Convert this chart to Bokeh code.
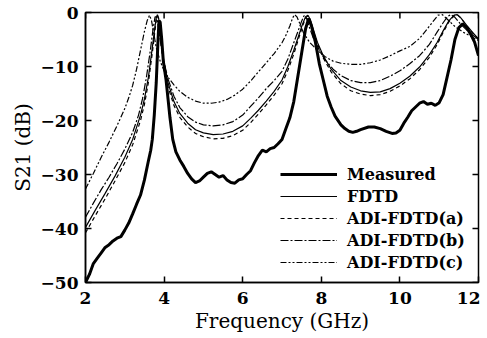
import math
from bokeh.plotting import figure
from bokeh.models import FixedTicker, Legend, LegendItem, Range1d
from bokeh.embed import file_html
from bokeh.resources import INLINE

# ---- data ----
meas_f = [2.00, 2.10, 2.20, 2.30, 2.40, 2.50, 2.60, 2.70, 2.80, 2.90, 3.00, 3.10, 3.20,
          3.30, 3.40, 3.50, 3.60, 3.66, 3.70, 3.75, 3.80, 3.84, 3.87, 3.90, 3.94, 3.98,
          4.05, 4.10, 4.15, 4.22, 4.30, 4.40, 4.50, 4.60, 4.70, 4.80, 4.90, 5.00, 5.10,
          5.20, 5.30, 5.40, 5.50, 5.60, 5.70, 5.80, 5.90, 6.00, 6.10, 6.20, 6.30, 6.40,
          6.50, 6.60, 6.70, 6.80, 6.90, 7.00, 7.10, 7.20, 7.30, 7.40, 7.50, 7.60, 7.68,
          7.75, 7.85, 7.95, 8.05, 8.15, 8.25, 8.35, 8.50, 8.60, 8.70, 8.80, 8.90, 9.00,
          9.20, 9.35, 9.50, 9.65, 9.80, 9.90, 10.00, 10.10, 10.20, 10.30, 10.40, 10.50,
          10.60, 10.70, 10.80, 10.90, 11.00, 11.10, 11.20, 11.30, 11.40, 11.50, 11.60,
          11.70, 11.80, 11.90, 12.00]
meas_db = [-50.0, -48.5, -46.5, -45.5, -44.5, -43.5, -43.0, -42.3, -41.8, -41.5, -40.3, -39.0, -37.3,
           -35.5, -33.8, -31.0, -27.5, -25.5, -23.5, -19.0, -13.0, -6.0, -1.5, -1.8, -5.0, -9.0,
           -12.5, -16.0, -19.5, -23.5, -25.8, -27.3, -28.5, -29.8, -30.8, -31.5, -31.2, -30.5, -29.8,
           -29.5, -30.0, -30.5, -30.2, -31.0, -31.5, -31.6, -31.0, -30.8, -30.0, -29.3, -27.8, -26.5,
           -25.5, -25.8, -25.2, -25.0, -24.3, -23.5, -21.5, -19.5, -16.5, -12.0, -7.5, -3.0, -1.1,
           -2.5, -5.5, -9.5, -12.5, -15.5, -17.5, -19.2, -20.8, -21.5, -22.0, -22.2, -22.0, -21.7,
           -21.2, -21.2, -21.5, -22.0, -22.4, -22.3, -21.8, -20.5, -19.4, -18.2, -17.5, -16.8,
           -16.5, -17.0, -16.8, -17.2, -16.7, -15.2, -12.0, -8.8, -5.0, -2.8, -2.1,
           -2.8, -4.0, -5.5, -8.0]

fdtd_f = [2.0, 2.25, 2.5, 2.75, 3.0, 3.2, 3.4, 3.5, 3.6, 3.7, 3.76, 3.80, 3.83, 3.86, 3.90,
          3.95, 4.0, 4.1, 4.25, 4.4, 4.6, 4.8, 5.0, 5.25, 5.5, 5.75, 6.0, 6.2, 6.4, 6.6, 6.8,
          7.0, 7.15, 7.3, 7.42, 7.52, 7.6, 7.66, 7.72, 7.8, 7.9, 8.05, 8.25, 8.5, 8.75, 9.0,
          9.25, 9.5, 9.75, 10.0, 10.25, 10.5, 10.75, 10.95, 11.1, 11.25, 11.38, 11.46, 11.55,
          11.7, 11.85, 12.0]
fdtd_db = [-39.8, -36.6, -33.5, -30.3, -26.8, -23.5, -19.0, -16.0, -12.0, -6.5, -3.0, -1.0, -0.4,
           -1.0, -3.5, -6.8, -9.3, -13.0, -16.5, -18.7, -20.5, -21.7, -22.3, -22.6, -22.5, -22.0,
           -21.0, -19.6, -18.1, -16.4, -14.6, -12.5, -10.0, -7.0, -4.4, -2.2, -0.8, -0.5, -1.3,
           -3.2, -5.5, -8.0, -10.5, -12.6, -13.8, -14.5, -14.8, -14.7, -14.1, -13.1, -11.8, -10.1,
           -7.8, -5.5, -3.4, -1.5, -0.5, -0.4, -1.0, -2.4, -3.7, -4.9]

adia_f = fdtd_f
adia_db = [-40.8, -37.6, -34.5, -31.2, -27.8, -24.5, -20.0, -17.0, -13.0, -7.5, -3.8, -1.5, -0.6,
           -1.2, -4.0, -7.5, -10.0, -13.8, -17.2, -19.4, -21.2, -22.4, -23.0, -23.4, -23.3, -22.8,
           -21.8, -20.4, -18.8, -17.1, -15.3, -13.2, -10.7, -7.7, -4.9, -2.6, -1.0, -0.6, -1.5,
           -3.5, -5.8, -8.4, -11.0, -13.2, -14.5, -15.1, -15.4, -15.2, -14.6, -13.6, -12.3, -10.6,
           -8.3, -5.9, -3.7, -1.7, -0.6, -0.4, -1.0, -2.5, -3.8, -5.0]

adib_f = [2.0, 2.2, 2.4, 2.6, 2.8, 3.0, 3.2, 3.35, 3.45, 3.55, 3.65, 3.72, 3.77, 3.81, 3.86,
          3.92, 4.0, 4.1, 4.25, 4.4, 4.6, 4.8, 5.0, 5.25, 5.5, 5.75, 6.0, 6.2, 6.4, 6.6, 6.8,
          7.0, 7.15, 7.3, 7.4, 7.5, 7.56, 7.62, 7.7, 7.8, 7.95, 8.1, 8.3, 8.5, 8.75, 9.0, 9.25,
          9.5, 9.75, 10.0, 10.25, 10.5, 10.75, 10.95, 11.1, 11.22, 11.3, 11.4, 11.55, 11.75, 12.0]
adib_db = [-37.9, -35.3, -32.8, -30.5, -28.0, -25.3, -22.2, -19.0, -16.0, -12.0, -7.0, -3.0, -0.8,
           -0.8, -3.0, -6.0, -9.3, -12.3, -15.5, -17.6, -19.3, -20.3, -20.8, -21.0, -20.8, -20.2,
           -19.0, -17.4, -15.8, -14.1, -12.6, -10.9, -8.6, -5.6, -3.6, -1.6, -0.6, -1.0, -2.8,
           -4.8, -7.0, -8.8, -10.5, -11.7, -12.6, -13.0, -13.0, -12.6, -11.8, -10.8, -9.5, -8.0,
           -5.9, -3.6, -1.9, -0.7, -0.4, -0.9, -2.2, -3.6, -5.0]

adic_f = [2.0, 2.2, 2.4, 2.6, 2.8, 3.0, 3.1, 3.2, 3.3, 3.4, 3.5, 3.57, 3.63, 3.68, 3.74, 3.8,
          3.9, 4.0, 4.1, 4.25, 4.4, 4.6, 4.8, 5.0, 5.2, 5.4, 5.6, 5.8, 6.0, 6.2, 6.4, 6.6, 6.8,
          7.0, 7.1, 7.2, 7.27, 7.32, 7.38, 7.45, 7.55, 7.7, 7.9, 8.1, 8.3, 8.5, 8.75, 9.0, 9.25,
          9.5, 9.75, 10.0, 10.25, 10.5, 10.7, 10.85, 10.97, 11.08, 11.2, 11.4, 11.6, 11.8, 12.0]
adic_db = [-32.7, -29.8, -26.8, -24.0, -21.0, -17.8, -15.8, -13.5, -10.5, -7.0, -3.5, -1.5, -0.5,
           -1.5, -4.0, -6.5, -9.0, -10.8, -12.0, -13.4, -14.6, -15.7, -16.4, -16.8, -16.8, -16.6,
           -16.1, -15.3, -14.2, -12.7, -11.0, -9.3, -7.6, -5.6, -4.2, -2.5, -1.0, -0.4, -0.8,
           -2.0, -3.8, -5.5, -7.0, -8.2, -9.0, -9.4, -9.6, -9.6, -9.3, -8.8, -8.0, -7.1, -6.3,
           -4.8, -3.0, -1.6, -0.5, -0.4, -1.2, -2.6, -3.6, -4.4, -5.2]

series_names = ["Measured", "FDTD", "ADI-FDTD(a)", "ADI-FDTD(b)", "ADI-FDTD(c)"]
x_ticks = [2, 4, 6, 8, 10, 12]
y_ticks = [-50, -40, -30, -20, -10, 0]
x_min, x_max = 2, 12
y_min, y_max = -50, 0

FONT = "DejaVu Serif"

p = figure(frame_width=393, frame_height=270, output_backend="svg", toolbar_location=None,
           x_range=Range1d(x_min, x_max), y_range=Range1d(y_min, y_max),
           min_border_left=85, min_border_right=2, min_border_top=12, min_border_bottom=4)
p.background_fill_color = "white"
p.border_fill_color = "white"
p.outline_line_color = "black"
p.outline_line_width = 1.5
p.xgrid.visible = False
p.ygrid.visible = False

r_meas = p.line(meas_f, meas_db, line_color="black", line_width=3)
r_fdtd = p.line(fdtd_f, fdtd_db, line_color="black", line_width=1.2)
r_a = p.line(adia_f, adia_db, line_color="black", line_width=1.2, line_dash="4 3")
r_b = p.line(adib_f, adib_db, line_color="black", line_width=1.2, line_dash="8 2 2 2")
r_c = p.line(adic_f, adic_db, line_color="black", line_width=1.2, line_dash="6 2 2 2 2 2")

# inward ticks on the top and right edges of the frame (mirror of bottom / left axes)
p.ray(x=x_ticks, y=[y_max] * len(x_ticks), length=6, length_units="screen",
      angle=-math.pi / 2, line_color="black", line_width=1.5)
p.ray(x=[x_max] * len(y_ticks), y=y_ticks, length=6, length_units="screen",
      angle=math.pi, line_color="black", line_width=1.5)

for ax, ticks in ((p.xaxis[0], x_ticks), (p.yaxis[0], y_ticks)):
    ax.ticker = FixedTicker(ticks=ticks)
    ax.axis_line_color = "black"
    ax.axis_line_width = 1.5
    ax.major_tick_in = 6
    ax.major_tick_out = 0
    ax.major_tick_line_width = 1.5
    ax.minor_tick_line_color = None
    ax.major_label_text_font = FONT
    ax.major_label_text_font_style = "bold"
    ax.major_label_text_font_size = "17px"
    ax.major_label_text_color = "black"
    ax.axis_label_text_font = FONT
    ax.axis_label_text_font_style = "normal"
    ax.axis_label_text_font_size = "20px"
    ax.axis_label_text_color = "black"

xa = p.xaxis[0]
xa.major_label_standoff = 9
xa.axis_label = "Frequency (GHz)"
xa.axis_label_standoff = 2

ya = p.yaxis[0]
ya.major_label_standoff = 7
ya.axis_label = "S21 (dB)"
ya.axis_label_standoff = 3

legend = Legend(items=[LegendItem(label=n, renderers=[r]) for n, r in
                       zip(series_names, [r_meas, r_fdtd, r_a, r_b, r_c])],
                location=(195, 10))
legend.label_text_font = FONT
legend.label_text_font_style = "bold"
legend.label_text_font_size = "16px"
legend.label_text_color = "black"
legend.glyph_width = 57
legend.glyph_height = 20
legend.label_height = 20
legend.label_standoff = 10
legend.spacing = 2
legend.padding = 0
legend.margin = 0
legend.border_line_color = None
legend.background_fill_color = "white"
legend.background_fill_alpha = 1.0
p.add_layout(legend, "center")

open("out.html", "w").write(file_html(p, INLINE))
